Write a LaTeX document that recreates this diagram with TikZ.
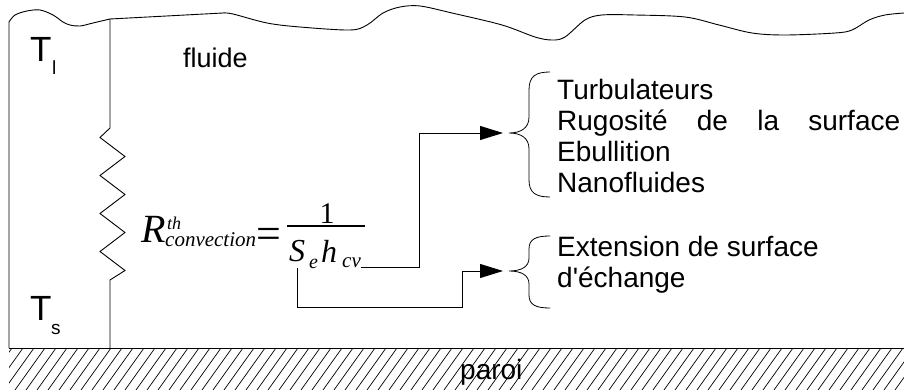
\documentclass[tikz,border=0pt]{standalone}
\usepackage{fontspec}
\setmainfont{Liberation Sans}
\newfontfamily\seriffam{Liberation Serif}
\usetikzlibrary{arrows.meta}
\newcommand\myfs[1]{\fontsize{#1}{#1}\selectfont}
\tikzset{
  lbl/.style={inner sep=0pt, anchor=base west, font=\myfs{28}},
  big/.style={inner sep=0pt, anchor=base west, font=\myfs{35}},
  sub/.style={inner sep=0pt, anchor=base west, font=\myfs{19}},
  mth/.style={inner sep=0pt, anchor=base west, font=\seriffam\itshape\myfs{#1}},
  wall/.style={line width=0.9pt},
  conn/.style={line width=0.9pt, -{Triangle[length=23pt,width=14pt]}},
  bracepath/.style={line width=0.8pt},
  hatch/.style={line width=0.7pt}
}
\begin{document}
\begin{tikzpicture}[x=1pt,y=-1pt]
\useasboundingbox (0,0) rectangle (904,390);
% hatched wall
\begin{scope}
\clip (9,348) rectangle (904,390);
\foreach \x in {-40,-29,...,930} \draw[hatch] (\x,390) -- (\x+30,348);
\end{scope}
\draw[wall] (9,348) -- (904,348);
% fluid boundary
\draw[wall] (9,348) -- (9,22)
  plot[smooth, tension=0.55] coordinates {(9,22) (15,15) (27,11) (40,10) (53,15) (63,22) (70,25) (80,26) (93,23) (110,19)};
\draw[wall] (110,19) -- (223,13);
\draw[wall] plot[smooth, tension=0.55] coordinates {(223,13) (233,14) (267,23) (300,27) (350,30) (367,25) (383,13) (400,7) (420,6) (452,13) (502,25) (535,37) (552,40) (565,37) (585,20) (602,15) (635,15) (685,17) (719,25) (752,33) (785,35) (835,33) (852,30) (869,20) (885,15) (904,13)};
% resistor line
\draw[wall] (110,19) -- (110,128) -- (100,137.5) -- (125,156.5) -- (100,175.5) -- (125,194.5)
  -- (100,213.5) -- (125,232.5) -- (100,251.5) -- (125,270.5) -- (110,280) -- (110,348);
% labels
\node[big] (Tl) at (30,62) {T};
\node[sub] (l) at (52,75) {l};
\node[big] (Ts) at (30,320) {T};
\node[sub] (s) at (51,334) {s};
\node[lbl,font=\myfs{27}] (fl) at (183,68) {fluide};
\node[lbl] (par) at (460,379) {paroi};
% formula
\node[mth=40] (R) at (141,242) {R};
\node[mth=18] (th) at (167,229) {th};
\node[mth=21] (cvn) at (165,246) {convection};
\node[inner sep=0pt, anchor=base west, font=\seriffam\myfs{44}] (eq) at (256,248) {=};
\draw[line width=1.8pt] (287,226) -- (365,226);
\node[inner sep=0pt, anchor=base, font=\seriffam\myfs{30}] (one) at (327,223) {1};
\node[mth=32] (S) at (289,261) {S};
\node[mth=20] (e) at (309,268) {e};
\node[mth=32] (h) at (321,262) {h};
\node[mth=21] (cv) at (342,267) {cv};
% lists
\node[lbl] (t1) at (557,100) {Turbulateurs};
\node[lbl] (t2) at (557,131) {\makebox[343pt][s]{Rugosité de la surface}};
\node[lbl] (t3) at (557,162) {Ebullition};
\node[lbl] (t4) at (557,193) {Nanofluides};
\node[lbl] (t5) at (557,256) {Extension de surface};
\node[lbl] (t6) at (557,287) {d\textquotesingle échange};
% braces
\coordinate (b1) at (509,133);
\coordinate (b2) at (509,271);
\draw[bracepath] (550,72) .. controls (536,72) and (529,76) .. (529,90) -- (529,117)
  .. controls (529,128) and (521,133) .. (b1) .. controls (521,133) and (529,138) .. (529,149)
  -- (529,180) .. controls (529,193) and (536,197) .. (550,197);
\draw[bracepath] (550,236) .. controls (536,236) and (529,239) .. (529,249) -- (529,258)
  .. controls (529,267) and (521,271) .. (b2) .. controls (521,271) and (529,275) .. (529,284)
  -- (529,295) .. controls (529,305) and (536,308) .. (550,308);
% connectors
\coordinate (a1) at (503,133);
\coordinate (a2) at (503,271);
\coordinate (c2s) at (297,268);
\draw[conn] (cv.base east) -- ++(58,0) |- (a1);
\draw[conn] (c2s) |- (462,307) |- (a2);
\end{tikzpicture}
\end{document}
